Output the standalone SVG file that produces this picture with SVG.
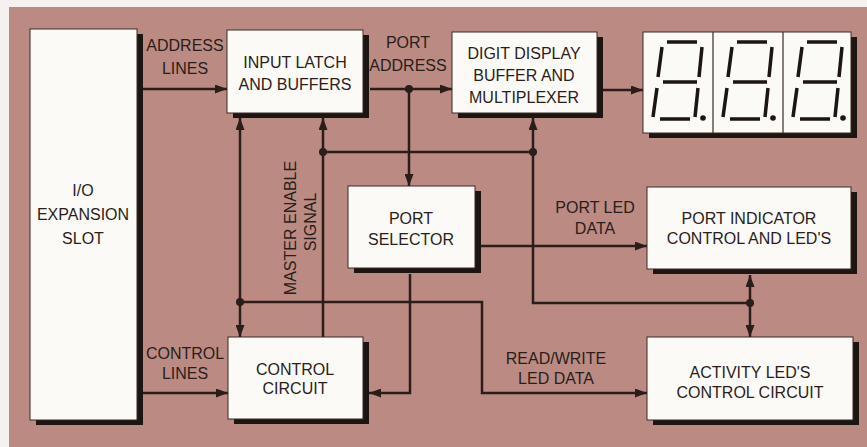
<svg xmlns="http://www.w3.org/2000/svg" width="867" height="447" viewBox="0 0 867 447">
<defs>
<style>
.bg{fill:#bb8b83}
.box{fill:#fbfaf6;stroke:#3a2a26;stroke-width:1}
.sh{fill:#1c1512}
.t{font-family:"Liberation Sans",Arial,sans-serif;font-size:16px;fill:#2a1d1a;text-anchor:middle}
.ln{fill:none;stroke:#2a1d1a;stroke-width:2.5}
.dot{fill:#2a1d1a}
.seg{fill:none;stroke:#1c1512;stroke-width:3.5}
</style>
<marker id="ah" viewBox="0 0 12 9" refX="12" refY="4.5" markerWidth="12" markerHeight="9" markerUnits="userSpaceOnUse" orient="auto-start-reverse">
<path d="M0,0 L12,4.5 L0,9 Z" fill="#2a1d1a"/>
</marker>
<g id="digit">
<path class="seg" d="M24,10 L54,10 M19,15 L15,45 M59,15 L56,45 M20,50 L54,50 M14,56 L10,85 M55,56 L52,85 M17,87 L47,87"/>
<circle cx="60" cy="86" r="2.8" fill="#1c1512"/>
</g>
</defs>
<rect x="0" y="0" width="867" height="447" fill="#f4f1ee"/>
<rect class="bg" x="9" y="7" width="858" height="440"/>

<g id="connectors">
<path class="ln" d="M143,89 H227" marker-end="url(#ah)"/>
<path class="ln" d="M370,89 H452" marker-end="url(#ah)"/>
<path class="ln" d="M409,89 V186" marker-end="url(#ah)"/>
<path class="ln" d="M603,90 H643" marker-end="url(#ah)"/>
<path class="ln" d="M240,118 V337" marker-start="url(#ah)" marker-end="url(#ah)"/>
<path class="ln" d="M240,302 H482 V393 H647" marker-end="url(#ah)"/>
<path class="ln" d="M323,337 V118" marker-end="url(#ah)"/>
<path class="ln" d="M323,152 H533"/>
<path class="ln" d="M750,303 H533 V118" marker-end="url(#ah)"/>
<path class="ln" d="M750,275 V337" marker-start="url(#ah)" marker-end="url(#ah)"/>
<path class="ln" d="M481,246 H647" marker-end="url(#ah)"/>
<path class="ln" d="M410,274 V393 H369" marker-end="url(#ah)"/>
<path class="ln" d="M143,393 H228" marker-end="url(#ah)"/>
<circle class="dot" cx="409" cy="89" r="4"/>
<circle class="dot" cx="240" cy="302" r="4"/>
<circle class="dot" cx="323" cy="152" r="4"/>
<circle class="dot" cx="533" cy="152" r="4"/>
<circle class="dot" cx="750" cy="303" r="4"/>
<text class="t" x="185" y="51">ADDRESS</text>
<text class="t" x="185" y="74">LINES</text>
<text class="t" x="408" y="48">PORT</text>
<text class="t" x="408" y="71">ADDRESS</text>
<text class="t" x="595" y="213">PORT LED</text>
<text class="t" x="595" y="234">DATA</text>
<text class="t" x="185" y="359">CONTROL</text>
<text class="t" x="185" y="379">LINES</text>
<text class="t" x="556" y="364">READ/WRITE</text>
<text class="t" x="556" y="384">LED DATA</text>
<text class="t" transform="translate(296,228) rotate(-90)">MASTER ENABLE</text>
<text class="t" transform="translate(316,222) rotate(-90)">SIGNAL</text>
</g>

<g id="io">
<rect class="sh" x="36" y="34" width="107" height="391"/>
<rect class="box" x="30" y="29" width="107" height="391"/>
<text class="t" x="83" y="196">I/O</text>
<text class="t" x="83" y="220">EXPANSION</text>
<text class="t" x="83" y="244">SLOT</text>
</g>

<g id="latch">
<rect class="sh" x="233" y="35" width="136" height="83"/>
<rect class="box" x="227" y="30" width="136" height="83"/>
<text class="t" x="295" y="68">INPUT LATCH</text>
<text class="t" x="295" y="90">AND BUFFERS</text>
</g>

<g id="digitbuf">
<rect class="sh" x="458" y="37" width="145" height="81"/>
<rect class="box" x="452" y="32" width="145" height="81"/>
<text class="t" x="524" y="59">DIGIT DISPLAY</text>
<text class="t" x="524" y="81">BUFFER AND</text>
<text class="t" x="524" y="103">MULTIPLEXER</text>
</g>

<g id="display">
<rect class="sh" x="649" y="37" width="208" height="101"/>
<rect class="box" x="643" y="32" width="208" height="101"/>
<line x1="713" y1="32" x2="713" y2="133" stroke="#3a2a26" stroke-width="1.2"/>
<line x1="783" y1="32" x2="783" y2="133" stroke="#3a2a26" stroke-width="1.2"/>
<use href="#digit" x="643" y="32"/>
<use href="#digit" x="713" y="32"/>
<use href="#digit" x="783" y="32"/>
</g>

<g id="portsel">
<rect class="sh" x="354" y="191" width="127" height="82"/>
<rect class="box" x="348" y="186" width="127" height="82"/>
<text class="t" x="411" y="224">PORT</text>
<text class="t" x="411" y="245">SELECTOR</text>
</g>

<g id="portind">
<rect class="sh" x="653" y="192" width="204" height="82"/>
<rect class="box" x="647" y="187" width="204" height="82"/>
<text class="t" x="749" y="224">PORT INDICATOR</text>
<text class="t" x="749" y="244">CONTROL AND LED'S</text>
</g>

<g id="control">
<rect class="sh" x="234" y="342" width="135" height="82"/>
<rect class="box" x="228" y="337" width="135" height="82"/>
<text class="t" x="295" y="375">CONTROL</text>
<text class="t" x="295" y="394">CIRCUIT</text>
</g>

<g id="activity">
<rect class="sh" x="653" y="342" width="206" height="83"/>
<rect class="box" x="647" y="337" width="206" height="83"/>
<text class="t" x="750" y="378">ACTIVITY LED'S</text>
<text class="t" x="750" y="398">CONTROL CIRCUIT</text>
</g>
</svg>
